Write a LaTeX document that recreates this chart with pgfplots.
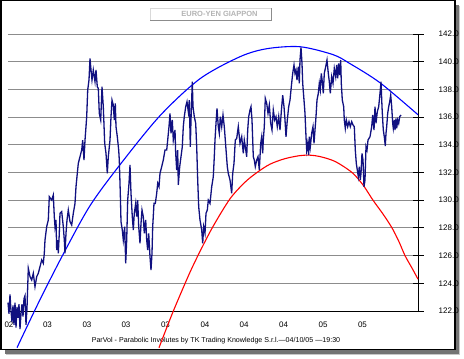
\documentclass[border=0pt]{standalone}
\usepackage{fontspec}
\setmainfont{Liberation Sans}
\usepackage{pgfplots}
\pgfplotsset{compat=1.18}
\definecolor{navyc}{RGB}{16,16,128}
\definecolor{bluec}{RGB}{0,0,255}
\definecolor{redc}{RGB}{255,0,0}
\definecolor{gridc}{RGB}{140,140,140}
\definecolor{titlec}{RGB}{180,180,180}
\begin{document}
\begin{tikzpicture}[x=1pt,y=1pt]
\path[use as bounding box] (0,0) rectangle (464,359);
\fill[black!22] (6,3.5) rectangle (460,353);
\fill[black!55] (5,4.5) rectangle (458.5,354);
\filldraw[fill=white,draw=black,line width=1.5pt] (0.75,9.25) rectangle (454.75,358.25);
% title box
\draw[black!15,line width=0.8pt] (150,339) -- (150,351) -- (271,351);
\draw[black!45,line width=0.8pt] (150,339) -- (271,339) -- (271,351);
\node[font=\fontsize{7.5}{9}\selectfont\bfseries,text=titlec] at (219.5,345) {EURO-YEN GIAPPON};
% footer
\node[font=\fontsize{7.1}{8}\selectfont] at (216,18.5) {ParVol - Parabolic Involutes by TK Trading Knowledge S.r.l.---04/10/05 ---19:30};
\begin{axis}[
  at={(8pt,48pt)}, anchor=south west,
  scale only axis, width=410pt, height=277pt,
  xmin=8, xmax=418, ymin=122, ymax=142,
  clip=false,
  axis x line*=bottom, axis y line*=right,
  axis line style={-,black,line width=0.8pt},
  xtick={9,47.5,87,126,165.5,205,244,283.5,323,362.5},
  xticklabels={02,03,03,03,03,04,04,04,05,05},
  xtick style={draw=none},
  ytick={122,124,...,142},
  ymajorgrids, grid style={gridc,line width=0.8pt},
  ytick style={black,line width=0.8pt},
  major tick length=11pt, tick align=center,
  tick label style={font=\fontsize{8}{9}\selectfont},
  every x tick label/.append style={anchor=base,inner sep=0pt,yshift=-11pt},
  every y tick label/.append style={anchor=west,inner sep=0pt,xshift=15pt},
  yticklabel style={/pgf/number format/.cd,fixed,fixed zerofill,precision=1,1000 sep={},assume math mode=true},
  xticklabel style={/pgf/number format/assume math mode=true},
]
% upper parabolic involute
\addplot[bluec,line width=1.1pt,smooth] coordinates {
(17,119.35) (40,122.82) (64,126.21) (90,129.6) (120,132.56) (160,136.10) (200,138.77) (240,140.36) (267,140.94) (300,141.08) (333,140.51) (350,139.86) (380,138.48) (418,136.17)
};
% lower parabolic involute
\addplot[redc,line width=1.1pt,smooth] coordinates {
(159,119.35) (170,121.4) (178,122.8) (190,124.8) (200,126.3) (213,128.1) (230,130.1) (245,131.3) (257,132) (270,132.6) (285,133.0) (300,133.22) (310,133.25) (320,133.15) (335,132.8) (352,132) (363,131.1) (373,130) (383,129) (392,128) (399,127) (405,126) (412,125.1) (418,124.3)
};
% EUR/JPY price
\addplot[navyc,line width=1.3pt] coordinates {
(8,122.6) (9,121.8) (10,123.2) (11,122.0) (12,121.2) (13,122.4) (14,121.0) (15,122.6) (16,120.8) (17,122.3) (18,121.5) (19,122.5) (20,120.7) (21,121.8) (22,122.5) (23,121.6) (24,122.9) (25,123.1) (26,121.0) (27,122.2)
(28.3,125.08) (30,124.48) (31.7,124.24) (33.3,124.72) (35,123.75) (36.7,124.48) (38.3,124.72) (40,125.20) (41.7,125.68) (43.3,125.44) (44.3,126.16) (45,127.12) (46.7,128.09) (48.3,128.57) (49.3,130.25) (51.7,130.01) (53.3,130.37) (54.3,128.81) (55,128.09) (56,128.57) (56.7,126.40) (57.7,127.12) (58.3,126.16) (59.3,127.61) (60,129.05) (61.7,129.17) (63.3,128.09) (64.3,127.12) (65,126.16) (66,127.61) (67,128.57) (68.3,129.29) (70,128.45) (71.7,128.21) (73.3,129.05) (75,129.77) (76,130.97) (77.3,131.94) (78.3,132.66) (80,133.14)
(81.7,133.62) (82.7,134.34) (84,132.90) (85,134.34) (86,135.31) (86.7,136.03) (87.7,137.95) (89,138.68) (90,140.24) (91,139.40) (92,138.68) (93.3,139.40) (95,138.56) (96,139.40) (97.3,138.19) (98.3,138.07) (99.3,136.27) (100.7,135.79) (102,138.19) (103.3,136.75) (104.7,134.10) (106,133.38) (107.3,131.94) (108.3,133.14) (110,134.34) (111,136.03) (112,137.23) (113.3,136.87) (114.3,135.79) (115.3,136.99) (116,135.31) (117.3,134.58) (118.7,133.62) (119.3,132.90) (120.3,130.49) (121,128.45) (122.3,127.85) (123.3,127.12) (124.7,128.09) (125.7,125.44) (126.7,127.12) (127.7,130.01) (129,131.22) (130,132.54) (131,130.49) (132.3,128.81) (133.3,127.85) (134.3,129.05) (135.7,129.77) (136.7,128.81) (137.7,130.01) (138.7,128.09) (140,126.88) (141,128.33) (142,129.29) (143.3,128.81) (144.3,127.61) (145.7,128.57) (146.7,127.12) (147.7,126.40) (148.7,127.61) (150,125.92) (151,124.96) (152,126.16) (152.7,128.09) (154,129.77) (155.3,129.77)
(156.7,130.49) (157.7,131.22) (159,130.97) (160,131.94) (161.7,132.42) (163.3,132.90) (165,133.62) (166.7,133.62) (167.7,134.34) (169,135.31) (170,136.27) (171,134.83) (172.3,135.79) (173.3,134.34) (175,135.07) (175.7,133.38) (176.7,132.18) (177.7,133.62) (178.3,131.10) (179.7,132.42) (181,133.14) (182.3,133.86) (183.3,135.31) (184.3,136.03) (185.7,136.75) (187,137.11) (188.3,136.39) (189.3,137.23) (190.3,133.86) (191,135.79) (192.3,138.56) (193,136.75) (194.3,136.03) (195.7,135.55) (196.7,133.86) (197.7,131.46) (198.7,129.53) (200,128.57) (201.7,127.85) (202.7,126.88) (203.7,128.09) (205,127.61) (206,129.05) (207.3,129.29) (208.3,130.01) (210,129.77) (211.7,130.97) (213.3,131.70) (214.3,133.14) (215,134.34) (216,135.55) (217,136.63) (218.3,135.31) (219.3,134.83) (220.3,136.03) (221.7,135.31) (223,136.15) (224.3,135.31) (225.3,134.34) (226.3,133.38) (227.3,132.42) (228.3,131.94) (230,131.46)
(231.7,130.49) (232.7,131.94) (234,132.66) (235.3,134.34) (236.7,134.46) (238.3,135.31) (240,134.10) (241.7,134.58) (243.3,133.38) (244.3,134.34) (245.3,133.86) (246.7,133.14) (247.7,135.07) (248.7,136.03) (250,136.51) (251,136.75) (252,135.79) (253.3,133.14) (254.3,132.90) (255.3,132.42) (256.7,132.90) (258,133.14) (259.3,132.18) (260.7,134.10) (261.7,134.58) (262.7,133.38) (263.3,134.34) (264.3,135.31) (265.3,137.35) (266.7,136.99) (268,136.27) (269.3,136.87) (270.7,135.55) (272,135.07) (273.3,136.51) (274.7,135.79) (276,136.03) (277.3,135.31) (278.7,136.03) (280,135.07) (281.3,136.39) (282.7,137.59) (284,136.75) (285,135.79) (286,134.58) (287.3,135.79) (288.7,136.75) (290,137.23) (291.3,138.19) (292.7,139.16) (294,139.76) (295,139.16) (296,139.40) (297,138.68) (298.3,139.64) (299.3,138.44) (300,140.12) (301,141.03) (302,139.88) (302.7,138.44) (304,137.23) (305,136.27) (306,134.58) (306.7,133.62) (307.7,134.10) (308.7,133.26)
(309.3,134.58) (310.3,133.86) (311.7,134.83) (313,135.31) (314,134.10) (315,135.07) (316,136.03) (317,137.23) (318.3,137.71) (319.3,138.44) (320.3,137.95) (321.3,139.16) (322.3,138.56) (323.3,137.71) (324.3,139.16) (325.7,139.64) (327,140.12) (328.3,139.16) (329.3,138.56) (330.3,137.71) (331.7,138.92) (333,138.44) (334.3,139.52) (335.7,138.92) (336.7,139.76) (337.7,138.80) (338.7,139.88) (339.7,139.04) (340.7,140.12) (341.3,138.44) (342.3,137.23) (343.7,136.75) (344.3,135.79) (345.3,135.19) (346.3,135.79) (347.7,135.31) (349,135.67) (350.3,135.31) (351.7,135.67) (353,135.43) (354.3,135.31) (355.3,133.62) (356.3,132.66) (357.3,132.18) (358.3,131.70) (359.3,132.42) (360.3,131.46) (361,131.94) (362,133.38) (363,132.90) (364,130.97) (365,131.46) (366,133.86) (367,133.62) (368,134.34)
(370,134.58) (371.7,135.31) (372.7,136.15) (374,135.07) (375,136.75) (376,135.55) (377.3,136.39) (378.7,136.75) (380,137.71) (381,138.56) (382,136.75) (382.7,135.79) (383.3,135.07) (384.3,134.58) (385.3,133.91) (386,134.83) (386.7,135.31) (387.7,136.27) (388.7,136.75) (389.7,137.11) (390.7,137.59) (391.7,136.75) (392.7,135.55) (393.3,135.19) (394.3,135.79) (395,135.07) (396,135.91) (396.7,135.19) (397.7,135.79) (398.7,135.55) (399.7,136.03) (401,136.15)
};
\end{axis}
\end{tikzpicture}
\end{document}
